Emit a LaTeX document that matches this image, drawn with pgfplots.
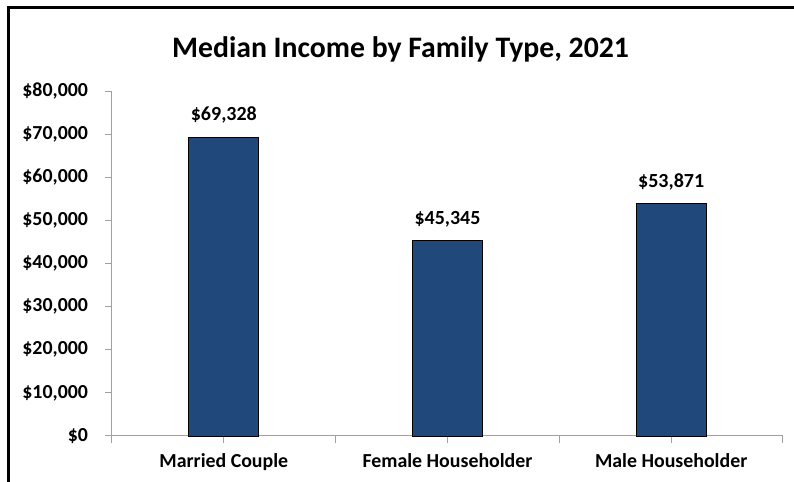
\documentclass[border=0pt]{standalone}
\usepackage{pgfplots}
\pgfplotsset{compat=1.18}
\usepackage{fontspec}
\setmainfont{Carlito}
\definecolor{barblue}{RGB}{33,72,122}
\definecolor{axgray}{RGB}{160,160,160}
\begin{document}
\begin{tikzpicture}[x=1pt,y=1pt]
\useasboundingbox (0,0) rectangle (595.5,361.5);
\begin{axis}[
  at={(84pt,34.5pt)}, anchor=south west,
  scale only axis,
  width=503.25pt, height=258.75pt,
  xmin=-0.5, xmax=2.5, ymin=0, ymax=80000,
  axis lines=left,
  axis line style={axgray, line width=0.75pt, -},
  xtick={0,1,2},
  xticklabels={Married Couple, Female Householder, Male Householder},
  extra x ticks={-0.5,0.5,1.5,2.5},
  extra x tick labels={},
  ytick={0,10000,...,80000},
  tick align=outside,
  tick style={axgray, line width=0.75pt},
  major tick length=5pt,
  yticklabel={\$\pgfmathprintnumber{\tick}},
  /pgf/number format/.cd, fixed, precision=0, 1000 sep={,}, assume math mode=true,
  /pgfplots/.cd,
  scaled y ticks=false,
  yticklabel style={font=\bfseries\fontsize{14.9}{17}\selectfont, black, xshift=-9.5pt},
  xticklabel style={font=\bfseries\fontsize{14.9}{17}\selectfont, black, yshift=-5pt},
  title={Median Income by Family Type, 2021},
  title style={font=\bfseries\fontsize{22.3}{26}\selectfont, at={(0.43,1)}, anchor=south, yshift=12pt},
  clip=false,
]
\addplot[ybar, bar width=52.5pt, fill=barblue, draw=black, line width=0.5pt,
  nodes near coords={\$\pgfmathprintnumber{\pgfplotspointmeta}},
  nodes near coords style={font=\bfseries\fontsize{15}{17}\selectfont, black, anchor=south, yshift=6.5pt},
  point meta=y]
  coordinates {(0,69328) (1,45345) (2,53871)};
\end{axis}
\draw[line width=2.25pt] (6,0) -- (6,355.5) -- (595.5,355.5);
\end{tikzpicture}
\end{document}
